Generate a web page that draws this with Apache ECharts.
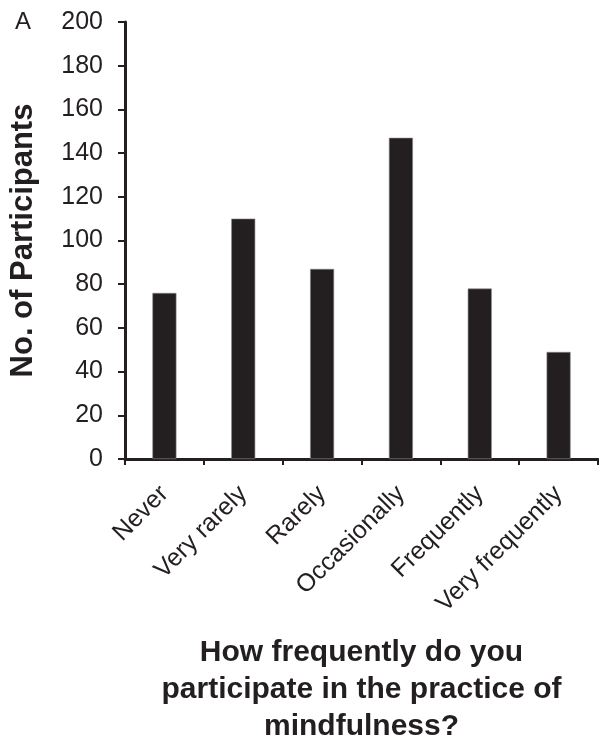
<!DOCTYPE html>
<html>
<head>
<meta charset="utf-8">
<script src="https://cdn.jsdelivr.net/npm/echarts@6/dist/echarts.min.js"></script>
<style>
  html, body { margin: 0; padding: 0; background: #fff; }
  #chart { width: 599px; height: 736px; }
</style>
</head>
<body>
<div id="chart"></div>
<script>
// Survey responses: how often participants practise mindfulness
const categories = ['Never', 'Very rarely', 'Rarely', 'Occasionally', 'Frequently', 'Very frequently'];
const participants = [76, 110, 87, 147, 78, 49];
const yTicks = { min: 0, max: 200, interval: 20 };

const ink = '#231f20';
const font = '"Liberation Sans", Arial, sans-serif';

const chart = echarts.init(document.getElementById('chart'), null, { renderer: 'canvas' });

chart.setOption({
  animation: false,
  backgroundColor: '#ffffff',
  title: {
    text: 'A',
    left: 10,
    top: 5,
    textStyle: { fontFamily: font, fontSize: 24, fontWeight: 'normal', color: ink }
  },
  grid: { left: 125, right: 1, top: 22, bottom: 277, containLabel: false, outerBoundsMode: 'none' },
  xAxis: {
    type: 'category',
    data: categories,
    boundaryGap: true,
    name: 'How frequently do you\nparticipate in the practice of\nmindfulness?',
    nameLocation: 'middle',
    nameGap: 175,
    nameTextStyle: {
      fontFamily: font, fontSize: 30, fontWeight: 'bold', color: ink, lineHeight: 37, align: 'center'
    },
    axisLine: { show: true, lineStyle: { color: ink, width: 3 } },
    axisTick: { show: true, alignWithLabel: false, length: 6, lineStyle: { color: ink, width: 2 } },
    axisLabel: {
      rotate: 45, margin: 31, interval: 0,
      fontFamily: font, fontSize: 25, color: ink
    },
    splitLine: { show: false }
  },
  yAxis: {
    type: 'value',
    min: yTicks.min,
    max: yTicks.max,
    interval: yTicks.interval,
    name: 'No. of Participants',
    nameLocation: 'middle',
    nameGap: 86,
    nameTextStyle: { fontFamily: font, fontSize: 31, fontWeight: 'bold', color: ink },
    axisLine: { show: true, lineStyle: { color: ink, width: 3 } },
    axisTick: { show: true, length: 7, lineStyle: { color: ink, width: 2 } },
    axisLabel: { margin: 22, fontFamily: font, fontSize: 25, color: ink },
    splitLine: { show: false }
  },
  series: [{
    type: 'bar',
    data: participants,
    barWidth: 24,
    itemStyle: { color: ink, borderColor: '#8a8788', borderWidth: 0.6 }
  }]
});
</script>
</body>
</html>
